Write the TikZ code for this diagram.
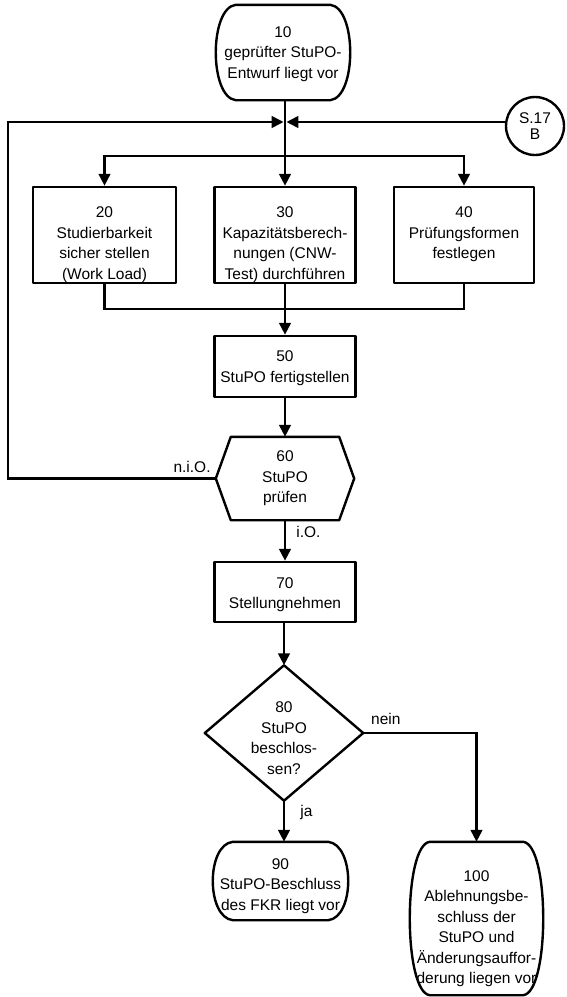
\documentclass[tikz,border=0pt]{standalone}
\usepackage{fontspec}
\setmainfont{Liberation Sans}
\usetikzlibrary{arrows.meta,calc}
\newcommand\toptext[2][140pt]{\parbox[c][96pt][t]{#1}{\centering\rule{0pt}{30.5pt}#2}}
\begin{document}
\begin{tikzpicture}[x=1pt,y=-1pt,
  every node/.style={font=\fontsize{15.5}{20.5}\selectfont, align=center, inner sep=0pt},
  shapeline/.style={line width=2.4pt, line join=round},
  conn/.style={line width=2.8pt},
  arr/.style={conn, -{Triangle[length=12pt,width=11.5pt]}},
  procbox/.style={draw, shapeline, minimum width=141pt, minimum height=60pt},
  ghost/.style={draw=none},
  lbl/.style={font=\fontsize{15.5}{18}\selectfont}
]
\useasboundingbox (0,0) rectangle (566,997);

% ---------- nodes ----------
\node[ghost, minimum width=134pt, minimum height=95pt] (e10) at (283,52.5) {\rule{0pt}{14pt}10\\geprüfter StuPO-\\Entwurf liegt vor};
\node[draw, circle, shapeline, minimum size=58pt, font=\fontsize{15.5}{16}\selectfont] (c17) at (535,126) {S.17\\B};

\node[procbox, minimum width=143pt, minimum height=96pt] (b20) at (104.5,235) {\toptext{20\\Studierbarkeit\\sicher stellen\\(Work Load)}};
\node[procbox, minimum width=141pt, minimum height=96pt] (b30) at (285,235) {\toptext{30\\Kapazitätsberech-\\nungen (CNW-\\Test) durchführen}};
\node[procbox, minimum width=140pt, minimum height=96pt] (b40) at (464,235) {\toptext{40\\Prüfungsformen\\festlegen}};

\node[procbox, minimum height=61pt] (b50) at (285,366.5) {\rule{0pt}{14pt}50\\StuPO fertigstellen};
\node[ghost, minimum width=138pt, minimum height=83pt] (h60) at (285,478.5) {60\\StuPO\\prüfen};
\node[procbox] (b70) at (285,592) {\rule{0pt}{16pt}70\\Stellungnehmen};
\node[ghost, minimum width=158pt, minimum height=135pt] (d80) at (284,733) {\rule{0pt}{21pt}80\\StuPO\\beschlos-\\sen?};
\node[ghost, minimum width=135pt, minimum height=78pt] (e90) at (280.5,881) {\rule{0pt}{21pt}90\\StuPO-Beschluss\\des FKR liegt vor};
\node[ghost, minimum width=133pt, minimum height=153pt] (e100) at (476.5,918.5) {\rule{0pt}{31pt}100\\Ablehnungsbe-\\schluss der\\StuPO und\\Änderungsauffor-\\derung liegen vor};

% ---------- outlines ----------
\foreach \n in {e10,e90,e100}{
  \draw[shapeline] ($(\n.north west)+(20,0)$) -- ($(\n.north east)+(-20,0)$)
    .. controls ($(\n.north east)+(6.7,3)$) and ($(\n.south east)+(6.7,-3)$) .. ($(\n.south east)+(-20,0)$)
    -- ($(\n.south west)+(20,0)$)
    .. controls ($(\n.south west)+(-6.7,-3)$) and ($(\n.north west)+(-6.7,3)$) .. cycle;
}
\draw[shapeline] (h60.west) -- ($(h60.north west)+(15,0)$) -- ($(h60.north east)+(-15,0)$) -- (h60.east)
  -- ($(h60.south east)+(-15,0)$) -- ($(h60.south west)+(15,0)$) -- cycle;
\draw[shapeline] (d80.north) -- (d80.east) -- (d80.south) -- (d80.west) -- cycle;

% ---------- connectors ----------
\coordinate (j) at (285,122);
\coordinate (L) at (8,122);
\coordinate (br) at (285,156);
\coordinate (mg) at (285,309);

\draw[arr] (e10.south -| b30.north) -- (b30.north);
\draw[arr, shorten >=1.4pt] (h60.west) -- (h60.west -| L) -- (L) -- (j);
\draw[arr, shorten >=1.4pt] (c17.west |- j) -- (j);
\draw[arr] (br) -| (b20.north);
\draw[arr] (br) -| (b40.north);

\draw[conn] (b20.south) |- (mg) -| (b40.south);
\draw[conn] (b30.south) -- (mg);
\draw[arr] (mg) -- (b50.north);
\draw[arr] (b50.south) -- (h60.north);
\draw[arr] (h60.south) -- (b70.north) node[pos=0.3, right=10pt, lbl] {i.O.};
\draw[arr] (d80.north |- b70.south) -- (d80.north);
\draw[arr] (d80.south) -- (d80.south |- e90.north) node[pos=0.28, right=15pt, lbl] {ja};
\draw[arr] (d80.east) -| (e100.north) node[pos=0.1, above=7pt, lbl] {nein};

\node[lbl, anchor=south east] (nio) at ($(h60.west)+(-5,-6)$) {n.i.O.};
\end{tikzpicture}
\end{document}
